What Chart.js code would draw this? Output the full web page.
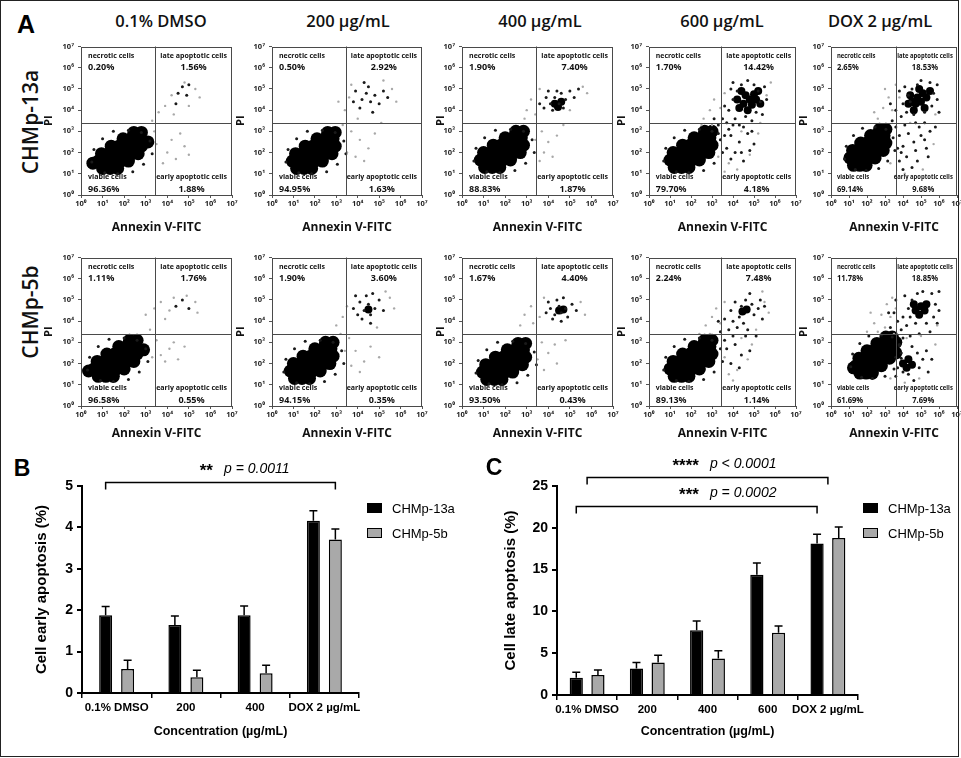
<!DOCTYPE html>
<html>
<head>
<meta charset="utf-8">
<script src="https://cdn.jsdelivr.net/npm/chart.js@4.4.1/dist/chart.umd.min.js"></script>
<style>
  body { margin: 0; background: #fff; }
  #fig { position: relative; width: 961px; height: 758px; overflow: hidden; font-family: "Open Sans", "Noto Sans", sans-serif; color: #111; }
  #fig canvas { position: absolute; }
  .t { position: absolute; white-space: nowrap; line-height: 1; transform: translate(-50%, -50%); }
  .frame { position: absolute; left: 0; top: 0; width: 959px; height: 757px; border: 1px solid #222; box-sizing: border-box; }
  .key { position: absolute; width: 15px; height: 10px; box-sizing: border-box; border: 1.5px solid #000; }
</style>
</head>
<body>
<div id="fig"><div class="frame"></div></div>
<script>
// ======= DATA =======
const conditions = ['0.1% DMSO', '200 µg/mL', '400 µg/mL', '600 µg/mL', 'DOX 2 µg/mL'];
const cellLines = ['CHMp-13a', 'CHMp-5b'];
const decadeTicks = [0, 1, 2, 3, 4, 5, 6, 7];

// quadrant percentages per condition
const necrotic13a = [0.20, 0.50, 1.90, 1.70, 2.65];
const late13a = [1.56, 2.92, 7.40, 14.42, 18.53];
const viable13a = [96.36, 94.95, 88.83, 79.70, 69.14];
const early13a = [1.88, 1.63, 1.87, 4.18, 9.68];
const necrotic5b = [1.11, 1.90, 1.67, 2.24, 11.78];
const late5b = [1.76, 3.60, 4.40, 7.48, 18.85];
const viable5b = [96.58, 94.15, 93.50, 89.13, 61.69];
const early5b = [0.55, 0.35, 0.43, 1.14, 7.69];

// gate positions (log10 units)
const gateAnnexin = [3.45, 3.45, 3.45, 3.45, 3.6];
const gatePI = [3.4, 3.4, 3.4, 3.4, 3.4];

// event clouds, [log10 Annexin, log10 PI]
// dense viable populations
const coreEvents13a = [
  [[1.0,1.25],[1.35,1.25],[1.7,1.25],[0.8,1.6],[1.15,1.6],[1.5,1.6],[1.85,1.6],[2.2,1.6],[0.95,1.95],[1.3,1.95],[1.65,1.95],[2.0,1.95],[2.35,1.95],[2.65,1.95],[1.4,2.3],[1.75,2.3],[2.1,2.3],[2.45,2.3],[2.8,2.3],[1.95,2.65],[2.3,2.65],[2.7,2.65],[2.45,2.95],[2.8,2.95],[0.55,1.5],[3.1,2.5]],
  [[1.15,1.25],[1.5,1.25],[1.85,1.25],[0.95,1.6],[1.3,1.6],[1.65,1.6],[2.0,1.6],[2.35,1.6],[1.1,1.95],[1.45,1.95],[1.8,1.95],[2.15,1.95],[2.5,1.95],[2.8,1.95],[1.55,2.3],[1.9,2.3],[2.25,2.3],[2.6,2.3],[2.95,2.3],[2.1,2.65],[2.45,2.65],[2.85,2.65],[2.6,2.95],[2.95,2.95]],
  [[1.05,1.3],[1.4,1.3],[1.75,1.3],[0.85,1.65],[1.2,1.65],[1.55,1.65],[1.9,1.65],[2.25,1.65],[1.0,2.0],[1.35,2.0],[1.7,2.0],[2.05,2.0],[2.4,2.0],[2.7,2.0],[1.45,2.35],[1.8,2.35],[2.15,2.35],[2.5,2.35],[2.85,2.35],[2.0,2.7],[2.35,2.7],[2.75,2.7],[2.5,3.0],[2.85,3.0]],
  [[1.2,1.3],[1.55,1.3],[1.9,1.3],[1.0,1.65],[1.35,1.65],[1.7,1.65],[2.05,1.65],[2.4,1.65],[1.15,2.0],[1.5,2.0],[1.85,2.0],[2.2,2.0],[2.55,2.0],[2.85,2.0],[1.6,2.35],[1.95,2.35],[2.3,2.35],[2.65,2.35],[3.0,2.35],[2.15,2.7],[2.5,2.7],[2.9,2.7],[2.65,3.0],[3.0,3.0]],
  [[1.25,1.4],[1.6,1.4],[1.95,1.4],[1.05,1.75],[1.4,1.75],[1.75,1.75],[2.1,1.75],[2.45,1.75],[1.2,2.1],[1.55,2.1],[1.9,2.1],[2.25,2.1],[2.6,2.1],[2.9,2.1],[1.65,2.45],[2.0,2.45],[2.35,2.45],[2.7,2.45],[3.05,2.45],[2.2,2.8],[2.55,2.8],[2.95,2.8],[2.7,3.1],[3.05,3.1]]
];
// dense apoptotic clusters
const clusterEvents13a = [
  [],
  [],
  [[4.3,4.3],[4.6,4.4],[4.45,4.15]],
  [[4.5,4.3],[4.8,4.5],[5.0,4.75],[4.6,4.7],[4.9,4.25],[4.3,4.1],[5.1,4.5],[4.2,4.5],[4.4,4.9],[5.2,4.9],[4.7,4.0],[5.3,4.3]],
  [[4.5,4.4],[4.8,4.6],[5.1,4.8],[4.7,4.3],[5.0,4.4],[4.4,4.7],[5.3,4.6],[4.3,4.3],[5.5,4.9],[4.9,5.0],[4.6,4.0],[5.2,4.1]]
];
const midEvents13a = [
  [[0.5,1.55],[0.6,2.15],[1.0,2.65],[1.5,3.0],[2.2,3.05],[2.8,2.95],[3.2,2.55],[3.3,1.95],[2.9,1.45],[2.4,1.1],[1.7,1.0],[1.1,1.05],[4.5,4.8],[4.7,5.1],[4.9,4.7],[4.4,4.3],[5.0,5.2]],
  [[0.65,1.55],[0.75,2.15],[1.15,2.65],[1.65,3.0],[2.35,3.05],[2.95,2.95],[3.35,2.55],[3.45,1.95],[3.05,1.45],[2.55,1.1],[1.85,1.0],[1.25,1.05],[3.9,4.9],[4.2,4.5],[4.4,4.8],[4.6,4.4],[4.8,4.7],[4.5,5.1],[4.1,4.1],[5.0,4.3],[5.2,4.9],[4.7,3.9],[3.8,4.4],[5.4,4.6],[4.3,5.3]],
  [[0.55,1.6],[0.65,2.2],[1.05,2.7],[1.55,3.05],[2.25,3.1],[2.85,3.0],[3.25,2.6],[3.35,2.0],[2.95,1.5],[2.45,1.15],[1.75,1.05],[1.15,1.1],[3.6,4.3],[3.9,4.6],[4.1,4.3],[4.3,4.6],[4.5,4.3],[4.6,4.8],[4.8,4.5],[5.0,4.9],[5.2,4.6],[4.2,4.0],[4.4,4.9],[3.8,4.1],[5.4,5.0],[4.0,4.9],[4.7,4.1]],
  [[0.7,1.6],[0.8,2.2],[1.2,2.7],[1.7,3.05],[2.4,3.1],[3.0,3.0],[3.4,2.6],[3.5,2.0],[3.1,1.5],[2.6,1.15],[1.9,1.05],[1.3,1.1],[3.8,4.0],[4.0,4.5],[4.2,4.9],[4.4,5.2],[5.0,5.2],[5.2,4.9],[5.3,4.4],[5.1,3.9],[4.6,3.7],[4.1,3.6],[3.9,5.0],[5.5,5.1],[3.7,3.4],[4.3,3.3],[4.9,3.5],[3.9,2.8],[4.3,2.5],[4.7,2.9],[4.1,2.0],[4.5,1.6],[3.7,2.2],[5.0,2.4],[3.6,2.8],[3.3,3.3],[3.1,3.6],[3.3,2.9],[3.5,3.6],[3.6,4.2],[3.8,3.1],[4.0,3.3],[4.5,3.2],[4.9,3.0],[4.4,2.0],[4.8,2.1],[3.9,1.7],[5.4,3.8],[5.6,4.5],[4.0,5.3],[4.7,5.4]],
  [[0.75,1.7],[0.85,2.3],[1.25,2.8],[1.75,3.15],[2.45,3.2],[3.05,3.1],[3.45,2.7],[3.55,2.1],[3.15,1.6],[2.65,1.25],[1.95,1.15],[1.35,1.2],[4.0,4.3],[4.3,4.7],[4.5,5.0],[4.8,5.2],[5.5,5.3],[5.7,4.8],[5.6,4.2],[5.2,3.9],[4.6,3.8],[4.2,3.9],[3.9,3.7],[4.4,4.4],[5.9,5.2],[3.8,2.8],[4.0,2.3],[4.3,2.9],[4.6,2.5],[5.0,2.8],[4.2,1.8],[4.8,1.6],[3.8,1.6],[5.3,2.2],[4.5,1.3],[3.7,2.2],[5.5,3.0],[4.9,3.2],[3.6,3.2],[3.4,3.5],[3.6,4.0],[3.3,4.3],[3.8,4.9],[4.1,5.1],[5.0,5.4],[5.9,4.5],[6.0,3.9],[5.8,3.2],[5.4,1.8],[4.0,1.2],[4.7,2.1],[5.2,2.6],[4.1,3.3],[4.7,3.4],[5.2,3.4],[3.9,2.0]]
];
const faintEvents13a = [
  [[3.9,4.2],[4.2,4.7],[4.8,5.3],[5.3,5.0],[5.5,4.6],[4.3,3.8],[5.0,4.2],[3.6,3.9],[3.3,3.5],[4.0,2.0],[4.4,1.7],[4.2,2.6],[4.8,2.3],[4.6,2.9],[3.8,1.5],[3.5,2.4],[3.4,3.0],[5.0,1.9]],
  [[3.4,4.0],[3.6,4.6],[3.1,4.4],[3.7,5.2],[5.6,5.0],[5.8,4.4],[5.2,5.4],[4.0,3.6],[3.7,3.0],[4.1,2.6],[4.5,2.2],[3.9,1.8],[4.8,2.9],[4.3,1.6],[3.5,2.0],[3.3,3.3],[5.1,3.4]],
  [[3.0,4.0],[3.2,4.5],[2.9,3.6],[3.4,3.8],[5.6,5.1],[5.8,4.8],[3.6,5.0],[5.0,4.0],[3.7,3.0],[4.0,2.5],[3.8,2.0],[4.4,2.8],[4.7,3.3],[3.6,1.6],[4.2,1.8],[3.4,2.6]],
  [[2.6,3.6],[2.9,4.0],[3.1,4.5],[3.4,4.1],[3.0,3.3],[2.5,3.3],[3.6,4.8],[5.6,4.7],[5.8,5.3],[3.8,1.5],[4.2,1.2],[4.8,1.9],[5.2,2.9],[4.4,3.0],[3.3,1.8],[3.6,1.1],[5.3,3.4]],
  [[2.6,3.6],[2.9,4.1],[3.2,4.6],[3.4,4.0],[2.4,3.9],[3.0,5.0],[3.6,5.2],[3.8,4.6],[5.8,3.8],[4.1,1.0],[5.1,1.2],[5.7,2.4],[3.3,1.5],[4.4,3.4],[3.6,0.9]]
];
const coreEvents5b = [
  [[0.8,1.4],[1.15,1.4],[1.5,1.4],[0.6,1.75],[0.95,1.75],[1.3,1.75],[1.65,1.75],[2.0,1.75],[0.75,2.1],[1.1,2.1],[1.45,2.1],[1.8,2.1],[2.15,2.1],[2.45,2.1],[1.2,2.45],[1.55,2.45],[1.9,2.45],[2.25,2.45],[2.6,2.45],[1.75,2.8],[2.1,2.8],[2.5,2.8],[2.25,3.1],[2.6,3.1],[0.35,1.65],[2.9,2.65]],
  [[1.05,1.3],[1.4,1.3],[1.75,1.3],[0.85,1.65],[1.2,1.65],[1.55,1.65],[1.9,1.65],[2.25,1.65],[1.0,2.0],[1.35,2.0],[1.7,2.0],[2.05,2.0],[2.4,2.0],[2.7,2.0],[1.45,2.35],[1.8,2.35],[2.15,2.35],[2.5,2.35],[2.85,2.35],[2.0,2.7],[2.35,2.7],[2.75,2.7],[2.5,3.0],[2.85,3.0]],
  [[1.15,1.25],[1.5,1.25],[1.85,1.25],[0.95,1.6],[1.3,1.6],[1.65,1.6],[2.0,1.6],[2.35,1.6],[1.1,1.95],[1.45,1.95],[1.8,1.95],[2.15,1.95],[2.5,1.95],[2.8,1.95],[1.55,2.3],[1.9,2.3],[2.25,2.3],[2.6,2.3],[2.95,2.3],[2.1,2.65],[2.45,2.65],[2.85,2.65],[2.6,2.95],[2.95,2.95]],
  [[1.2,1.4],[1.55,1.4],[1.9,1.4],[1.0,1.75],[1.35,1.75],[1.7,1.75],[2.05,1.75],[2.4,1.75],[1.15,2.1],[1.5,2.1],[1.85,2.1],[2.2,2.1],[2.55,2.1],[2.85,2.1],[1.6,2.45],[1.95,2.45],[2.3,2.45],[2.65,2.45],[3.0,2.45],[2.15,2.8],[2.5,2.8],[2.9,2.8],[2.65,3.1],[3.0,3.1]],
  [[1.6,1.55],[1.95,1.55],[2.3,1.55],[1.4,1.9],[1.75,1.9],[2.1,1.9],[2.45,1.9],[2.8,1.9],[1.55,2.25],[1.9,2.25],[2.25,2.25],[2.6,2.25],[2.95,2.25],[3.25,2.25],[2.0,2.6],[2.35,2.6],[2.7,2.6],[3.05,2.6],[3.4,2.6],[2.55,2.95],[2.9,2.95],[3.3,2.95],[3.05,3.25],[3.4,3.25],[1.25,1.8],[3.6,3.0],[3.6,2.5]]
];
const clusterEvents5b = [
  [],
  [[4.5,4.55]],
  [[4.7,4.55],[4.5,4.5]],
  [[4.65,4.55],[4.45,4.45]],
  [[4.0,2.0],[4.3,2.2],[4.5,1.95],[4.2,1.8],[4.7,4.5],[5.0,4.7],[5.2,4.5],[4.9,4.3],[5.3,4.8],[4.6,4.8]]
];
const midEvents5b = [
  [[0.3,1.7],[0.4,2.3],[0.8,2.8],[1.3,3.15],[2.0,3.2],[2.6,3.1],[3.0,2.7],[3.1,2.1],[2.7,1.6],[2.2,1.25],[1.5,1.15],[0.9,1.2],[4.4,4.7],[4.7,5.0],[5.0,4.6]],
  [[0.55,1.6],[0.65,2.2],[1.05,2.7],[1.55,3.05],[2.25,3.1],[2.85,3.0],[3.25,2.6],[3.35,2.0],[2.95,1.5],[2.45,1.15],[1.75,1.05],[1.15,1.1],[3.8,4.6],[4.1,4.9],[4.3,4.5],[4.5,4.8],[4.6,4.3],[4.4,5.2],[4.8,4.6],[5.0,5.0],[4.2,4.1],[4.7,5.3],[3.9,5.2],[5.2,4.5],[4.6,3.9],[4.0,4.3]],
  [[0.65,1.55],[0.75,2.15],[1.15,2.65],[1.65,3.0],[2.35,3.05],[2.95,2.95],[3.35,2.55],[3.45,1.95],[3.05,1.45],[2.55,1.1],[1.85,1.0],[1.25,1.05],[4.1,4.6],[4.3,4.3],[4.5,4.7],[4.6,4.4],[4.8,4.6],[4.4,5.0],[4.9,4.2],[5.1,4.8],[4.2,4.1],[3.9,4.4],[5.3,4.5],[4.7,5.1],[4.0,4.9],[4.6,4.0]],
  [[0.7,1.7],[0.8,2.3],[1.2,2.8],[1.7,3.15],[2.4,3.2],[3.0,3.1],[3.4,2.7],[3.5,2.1],[3.1,1.6],[2.6,1.25],[1.9,1.15],[1.3,1.2],[3.9,4.5],[4.1,4.9],[4.3,4.2],[4.4,4.7],[4.6,5.0],[4.9,4.8],[5.0,4.3],[5.2,4.6],[4.5,3.9],[4.2,3.7],[4.8,5.3],[5.3,5.0],[4.0,4.0],[4.7,3.6],[3.8,3.6],[3.7,2.7],[4.1,2.9],[4.4,2.4],[3.9,2.0],[3.6,3.1],[3.4,3.5],[3.6,4.1],[3.3,4.0],[4.0,3.3],[4.6,3.3],[5.1,3.3],[4.8,2.6],[4.3,1.8],[5.4,4.1],[5.5,4.7]],
  [[1.1,1.85],[1.2,2.45],[1.6,2.95],[2.1,3.3],[2.8,3.35],[3.4,3.25],[3.8,2.85],[3.9,2.25],[3.5,1.75],[3.0,1.4],[2.3,1.3],[1.7,1.35],[3.7,1.8],[3.9,2.5],[4.0,1.6],[4.8,2.5],[4.9,1.8],[4.3,1.5],[5.1,2.2],[3.8,2.9],[4.5,2.8],[3.6,2.3],[5.3,2.6],[4.0,4.2],[4.3,4.6],[4.5,5.0],[4.8,5.3],[5.6,5.3],[5.8,4.8],[5.7,4.2],[5.3,3.9],[4.7,3.9],[4.2,3.8],[3.9,3.6],[4.4,4.2],[6.0,5.4],[3.7,4.0],[3.3,3.7],[3.5,4.4],[3.2,4.4],[3.6,5.0],[4.1,5.2],[5.1,5.4],[6.0,4.5],[5.9,3.9],[5.5,3.5],[4.9,3.4],[4.4,3.3],[4.0,3.2],[5.6,2.2],[5.4,1.6],[3.6,1.4],[4.6,1.2]]
];
const faintEvents5b = [
  [[3.0,4.3],[3.4,4.6],[3.7,4.9],[4.1,4.5],[4.3,5.1],[4.9,5.2],[5.3,4.9],[3.9,4.1],[3.2,3.6],[3.5,3.1],[3.7,2.4],[4.1,2.7],[4.5,2.2],[4.3,3.0],[3.9,2.1],[3.3,2.3],[4.8,2.8],[5.4,4.4]],
  [[3.3,4.2],[3.5,4.7],[3.0,3.8],[5.5,5.1],[5.7,4.6],[5.3,5.4],[4.9,3.7],[3.6,3.2],[3.9,2.6],[4.3,2.1],[4.6,2.8],[3.7,1.9],[4.1,1.6],[5.0,2.3],[3.4,2.6],[3.2,3.4]],
  [[2.7,3.8],[2.9,4.3],[3.2,4.7],[3.3,3.9],[3.6,4.2],[5.5,4.9],[5.7,4.3],[3.8,5.1],[3.7,3.0],[4.0,2.5],[4.4,2.0],[3.8,1.7],[4.3,2.9],[4.8,3.1],[3.5,2.2]],
  [[2.4,3.4],[2.7,3.8],[3.0,4.2],[3.2,4.6],[3.4,3.9],[3.6,4.9],[2.9,3.4],[5.5,4.9],[5.7,4.4],[5.4,5.4],[3.8,1.5],[4.2,1.7],[4.7,2.2],[4.9,2.9],[4.4,3.2],[3.6,2.3],[5.1,3.6],[4.0,1.2]],
  [[2.0,3.5],[2.4,3.9],[2.8,4.3],[3.1,4.8],[3.3,4.2],[2.6,3.5],[3.0,3.7],[3.4,5.1],[3.6,4.6],[2.2,4.4],[5.9,3.8],[5.8,2.9],[3.5,3.4],[4.2,3.2],[5.0,3.3],[4.1,1.1],[4.9,1.3],[3.3,1.3]]
];

// bar charts
const earlyCats = ['0.1% DMSO', '200', '400', 'DOX 2 µg/mL'];
const earlyMean13a = [1.88, 1.64, 1.88, 4.16];
const earlySd13a = [0.21, 0.22, 0.22, 0.24];
const earlyMean5b = [0.58, 0.38, 0.48, 3.71];
const earlySd5b = [0.21, 0.17, 0.19, 0.25];
const earlyTicks = [0, 1, 2, 3, 4, 5];

const lateCats = ['0.1% DMSO', '200', '400', '600', 'DOX 2 µg/mL'];
const lateMean13a = [2.07, 3.18, 7.76, 14.37, 18.11];
const lateSd13a = [0.64, 0.72, 1.08, 1.43, 1.12];
const lateMean5b = [2.39, 3.90, 4.38, 7.44, 18.79];
const lateSd5b = [0.60, 0.84, 0.91, 0.80, 1.31];
const lateTicks = [0, 5, 10, 15, 20, 25];

// ======= LAYOUT =======
const fig = document.getElementById('fig');
const sup = ['⁰', '¹', '²', '³', '⁴', '⁵', '⁶', '⁷'];
const panelLeft = [81, 272, 462, 649, 831];
const panelWidth = [151, 150, 151, 147, 126];
const panelTop = [44, 255];
const panelHeight = 151;
const piGap = [32, 31, 21, 27, 27];
const annexinGap = [33, 28];
const titleX = [161, 348, 540, 722, 880];

function addText(txt, cx, cy, css) {
  const d = document.createElement('div');
  d.className = 't';
  d.textContent = txt;
  d.style.cssText = 'left:' + cx + 'px;top:' + cy + 'px;' + (css || '');
  fig.appendChild(d);
  return d;
}

function addCanvas(left, top, w, h) {
  const cv = document.createElement('canvas');
  cv.width = w;
  cv.height = h;
  cv.style.left = left + 'px';
  cv.style.top = top + 'px';
  fig.appendChild(cv);
  return cv;
}

// ======= DOT PLOT OVERLAY (box, gates, quadrant labels) =======
const facsPlugin = {
  id: 'facs',
  afterDatasetsDraw(chart, args, o) {
    const { ctx, chartArea: a, scales } = chart;
    const gx = Math.round(scales.x.getPixelForValue(o.gateX)) + 0.5;
    const gy = Math.round(scales.y.getPixelForValue(o.gateY)) + 0.5;
    ctx.save();
    ctx.strokeStyle = '#4a4a4a';
    ctx.lineWidth = 1;
    ctx.beginPath();
    ctx.moveTo(gx, a.top); ctx.lineTo(gx, a.bottom);
    ctx.moveTo(a.left, gy); ctx.lineTo(a.right, gy);
    ctx.stroke();
    ctx.strokeRect(Math.round(a.left) + 0.5, Math.round(a.top) + 0.5, Math.round(a.width) - 1, Math.round(a.height) - 1);

    // the DOX panel is squeezed sideways, so squeeze the labels too
    const k = a.width / 150, w = 150, h = a.height;
    ctx.translate(a.left, a.top);
    ctx.scale(k, 1);
    ctx.fillStyle = '#111';
    ctx.textBaseline = 'middle';
    const small = '700 7px "Open Sans"', big = '700 9px "Open Sans"';
    const fmt = v => v.toFixed(2) + '%';

    ctx.textAlign = 'left';
    ctx.font = small;
    ctx.fillText('necrotic cells', 7, 9.5);
    ctx.fillText('viable cells', 7, h - 18);
    ctx.font = big;
    ctx.fillText(fmt(o.pct[0]), 7, 21);
    ctx.fillText(fmt(o.pct[2]), 7, h - 6);

    ctx.textAlign = 'center';
    [['late apoptotic cells', o.pct[1], 9.5, 21], ['early apoptotic cells', o.pct[3], h - 18, h - 6]].forEach(q => {
      ctx.font = small;
      const cx = w - 5 - ctx.measureText(q[0]).width / 2;
      ctx.fillText(q[0], cx, q[2]);
      ctx.font = big;
      ctx.fillText(fmt(q[1]), cx, q[3]);
    });
    ctx.restore();
  }
};

const tickFont = { family: '"Open Sans", "Noto Sans", "DejaVu Sans"', size: 7.5, weight: 'bold' };

function facsPanel(row, col) {
  const L = panelLeft[col], T = panelTop[row], W = panelWidth[col], H = panelHeight;
  const padL = 44, padT = 6, padR = 8, padB = 40;
  const cv = addCanvas(L - padL, T - padT, W + padL + padR, H + padT + padB);
  const toXY = p => ({ x: p[0], y: p[1] });
  const faint = row === 0 ? faintEvents13a : faintEvents5b;
  const mid = row === 0 ? midEvents13a : midEvents5b;
  const cluster = row === 0 ? clusterEvents13a : clusterEvents5b;
  const core = row === 0 ? coreEvents13a : coreEvents5b;
  const pct = row === 0
    ? [necrotic13a[col], late13a[col], viable13a[col], early13a[col]]
    : [necrotic5b[col], late5b[col], viable5b[col], early5b[col]];

  new Chart(cv, {
    type: 'scatter',
    data: {
      datasets: [
        { data: faint[col].map(toXY), backgroundColor: '#a8a8a8', pointRadius: 1.2, pointBorderWidth: 0, clip: 0 },
        { data: mid[col].map(toXY), backgroundColor: '#1a1a1a', pointRadius: 1.5, pointBorderWidth: 0, clip: 0 },
        { data: cluster[col].map(toXY), backgroundColor: '#000', pointRadius: 4, pointBorderWidth: 0, clip: 0 },
        { data: core[col].map(toXY), backgroundColor: '#000', pointRadius: 6.5, pointBorderWidth: 0, clip: 0 }
      ]
    },
    options: {
      responsive: false,
      animation: false,
      events: [],
      layout: { padding: { top: padT, right: padR, left: 0, bottom: 0 } },
      plugins: {
        legend: { display: false },
        tooltip: { enabled: false },
        facs: { gateX: gateAnnexin[col], gateY: gatePI[col], pct: pct }
      },
      scales: {
        x: {
          type: 'linear', min: 0, max: 7,
          afterBuildTicks: s => { s.ticks = decadeTicks.map(v => ({ value: v })); },
          afterFit: s => { s.height = padB; },
          ticks: { callback: v => '10' + sup[v], font: tickFont, color: '#222', padding: 1, maxRotation: 0, autoSkip: false },
          grid: { drawOnChartArea: false, drawTicks: true, tickLength: 3, color: '#555' },
          border: { display: false },
          title: {
            display: true, text: 'Annexin V-FITC', color: '#111',
            font: { family: '"Open Sans"', size: 12, weight: 'bold' },
            padding: { top: 0, bottom: padB - annexinGap[row] - 7.2 }
          }
        },
        y: {
          type: 'linear', min: 0, max: 7,
          afterBuildTicks: s => { s.ticks = decadeTicks.map(v => ({ value: v })); },
          afterFit: s => { s.width = padL; },
          ticks: { callback: v => '10' + sup[v], font: tickFont, color: '#222', padding: 4 },
          grid: { drawOnChartArea: false, drawTicks: true, tickLength: 3, color: '#555' },
          border: { display: false },
          title: {
            display: true, text: 'PI', color: '#111',
            font: { family: '"Open Sans"', size: 11, weight: 'bold' },
            padding: { top: padL - piGap[col] - 6.6, bottom: 0 }
          }
        }
      }
    },
    plugins: [facsPlugin]
  });
}

// ======= BAR CHART EXTRAS (error bars, significance brackets) =======
const barExtras = {
  id: 'barExtras',
  afterDatasetsDraw(chart, args, o) {
    const { ctx, scales: { x, y } } = chart;
    ctx.save();
    ctx.strokeStyle = '#000';
    ctx.lineWidth = 1.5;
    chart.data.datasets.forEach((ds, di) => {
      chart.getDatasetMeta(di).data.forEach((bar, i) => {
        const top = y.getPixelForValue(ds.data[i]);
        const end = y.getPixelForValue(ds.data[i] + ds.sd[i]);
        ctx.beginPath();
        ctx.moveTo(bar.x, top); ctx.lineTo(bar.x, end);
        ctx.moveTo(bar.x - 4, end); ctx.lineTo(bar.x + 4, end);
        ctx.stroke();
      });
    });

    const endX = p => p[1] == null ? x.getPixelForValue(p[0]) : chart.getDatasetMeta(p[1]).data[p[0]].x;
    o.brackets.forEach(b => {
      const by = Math.round(y.getPixelForValue(b.y)) + 0.5;
      const x0 = endX(b.from), x1 = endX(b.to);
      ctx.beginPath();
      ctx.moveTo(x0, by + 7); ctx.lineTo(x0, by); ctx.lineTo(x1, by); ctx.lineTo(x1, by + 7);
      ctx.stroke();
      const tx = x.getPixelForValue(b.textAt);
      ctx.fillStyle = '#000';
      ctx.textBaseline = 'middle';
      ctx.textAlign = 'right';
      ctx.font = 'bold 17px "Liberation Sans"';
      ctx.fillText(b.stars, tx - 11, by - 11);
      ctx.textAlign = 'left';
      ctx.font = 'italic 14px "Liberation Sans"';
      ctx.fillText(b.p, tx, by - 13);
    });
    ctx.restore();
  }
};

const barFont = '"Liberation Sans", Arial, sans-serif';

function barPanel(c) {
  const cv = addCanvas(c.left, c.top, c.w, c.h);
  new Chart(cv, {
    type: 'bar',
    data: {
      labels: c.labels,
      datasets: [
        { label: cellLines[0], data: c.mean[0], sd: c.sd[0], backgroundColor: '#000', borderColor: '#000', borderWidth: 1.5, categoryPercentage: c.catPct, barPercentage: c.barPct },
        { label: cellLines[1], data: c.mean[1], sd: c.sd[1], backgroundColor: '#a9a9a9', borderColor: '#000', borderWidth: 1.5, categoryPercentage: c.catPct, barPercentage: c.barPct }
      ]
    },
    options: {
      responsive: false,
      animation: false,
      events: [],
      layout: { padding: { top: c.area.top - c.top, right: c.left + c.w - c.area.right, left: 0, bottom: 0 } },
      plugins: {
        legend: { display: false },
        tooltip: { enabled: false },
        barExtras: { brackets: c.brackets }
      },
      scales: {
        x: {
          afterFit: s => { s.height = c.top + c.h - c.area.bottom; },
          ticks: { font: { family: barFont, size: 11.5, weight: 'bold' }, color: '#000', padding: 3, maxRotation: 0, autoSkip: false },
          grid: { drawOnChartArea: false, tickLength: 5, color: '#000', lineWidth: 1.5 },
          border: { color: '#000', width: 2 },
          title: {
            display: true, text: 'Concentration (µg/mL)', color: '#000',
            font: { family: barFont, size: 12.5, weight: 'bold' },
            padding: { top: 0, bottom: 10.5 }
          }
        },
        y: {
          min: 0, max: c.ticks[c.ticks.length - 1],
          afterBuildTicks: s => { s.ticks = c.ticks.map(v => ({ value: v })); },
          afterFit: s => { s.width = c.area.left - c.left; },
          ticks: { font: { family: barFont, size: 14, weight: 'bold' }, color: '#000', padding: 4 },
          grid: { drawOnChartArea: false, tickLength: 5, color: '#000', lineWidth: 2 },
          border: { color: '#000', width: 2 },
          title: {
            display: true, text: c.yTitle, color: '#000',
            font: { family: barFont, size: 15, weight: 'bold' },
            padding: { top: c.yTitlePad, bottom: 0 }
          }
        }
      }
    },
    plugins: [barExtras]
  });

  // legend
  cellLines.forEach((name, i) => {
    const k = document.createElement('div');
    k.className = 'key';
    k.style.left = c.legendX + 'px';
    k.style.top = (503 + i * 25) + 'px';
    k.style.background = i === 0 ? '#000' : '#a9a9a9';
    fig.appendChild(k);
    addText(name, c.legendX + 25, 508 + i * 25, 'transform:translate(0,-50%);font:13px ' + barFont + ';color:#000;');
  });
}

// ======= PANEL A =======
addText('A', 26, 24, 'font:bold 25px ' + barFont + ';color:#000;');
conditions.forEach((c, i) => addText(c, titleX[i], 21, 'font-weight:600;font-size:16.5px;'));
addText(cellLines[0], 30, 122, 'transform:translate(-50%,-50%) rotate(-90deg);font-weight:600;font-size:21px;');
addText(cellLines[1], 30, 312, 'transform:translate(-50%,-50%) rotate(-90deg);font-weight:600;font-size:21px;');
for (let r = 0; r < 2; r++) {
  for (let c = 0; c < conditions.length; c++) facsPanel(r, c);
}

// ======= PANEL B =======
addText('B', 22, 468, 'font:bold 23px ' + barFont + ';color:#000;');
barPanel({
  left: 20, top: 440, w: 352, h: 310,
  area: { left: 82, top: 486, right: 359, bottom: 693 },
  labels: earlyCats,
  mean: [earlyMean13a, earlyMean5b],
  sd: [earlySd13a, earlySd5b],
  ticks: earlyTicks,
  catPct: 0.635, barPct: 0.59,
  yTitle: 'Cell early apoptosis (%)', yTitlePad: 13,
  legendX: 367,
  brackets: [{ from: [0, 0], to: [3, 1], y: 5.1, stars: '**', p: 'p = 0.0011', textAt: 1.55 }]
});

// ======= PANEL C =======
addText('C', 494, 467, 'font:bold 23px ' + barFont + ';color:#000;');
barPanel({
  left: 490, top: 440, w: 380, h: 310,
  area: { left: 557, top: 486, right: 858, bottom: 695 },
  labels: lateCats,
  mean: [lateMean13a, lateMean5b],
  sd: [lateSd13a, lateSd5b],
  ticks: lateTicks,
  catPct: 0.72, barPct: 0.61,
  yTitle: 'Cell late apoptosis (%)', yTitlePad: 12,
  legendX: 863,
  brackets: [
    { from: [0, null], to: [4, null], y: 26.1, stars: '****', p: 'p < 0.0001', textAt: 2.04 },
    { from: [0, 0], to: [4, 0], y: 22.6, stars: '***', p: 'p = 0.0002', textAt: 2.04 }
  ]
});
</script>
</body>
</html>
